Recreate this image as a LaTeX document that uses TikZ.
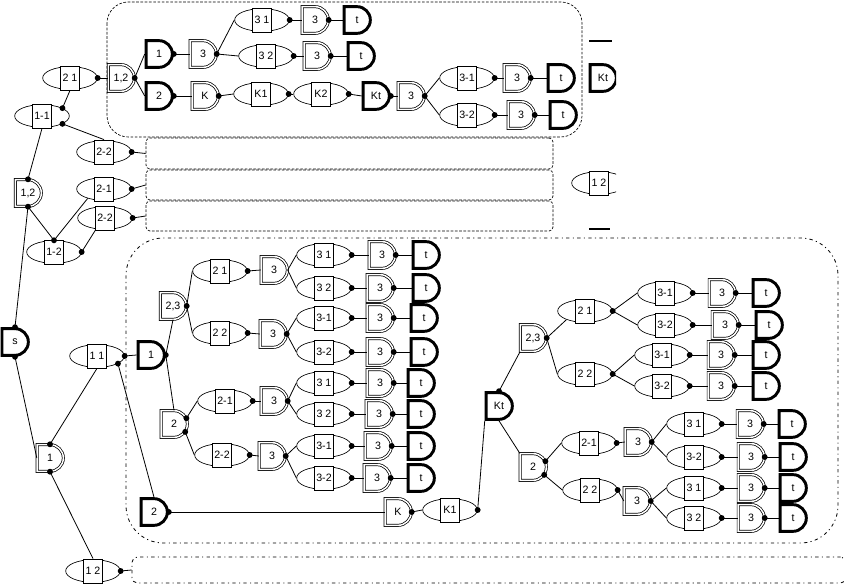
\documentclass[tikz,border=0pt]{standalone}
\usepackage{fontspec}
\setmainfont{Liberation Sans}
\usetikzlibrary{shapes.geometric,shapes.misc,fit}

% event: ellipse with a boxed tag on it
\newcommand{\evt}[3]{%
  \node[ell] (#1) at (#2) {};
  \node[tagbox] (#1b) at (#1) {#3};}
% leaf chain: event -> gate 3 -> gate t
\newcommand{\leaf}[6]{%
  \evt{#1}{#2,#3}{#6}
  \node[org] (#1g) at (#4,#3) {3};
  \node[andg] (#1t) at (#5,#3) {t};
  \draw[wire] (#1.east) -- (#1g.west);
  \draw[wire] (#1g.east) -- (#1t.west);
  \fill (#1.east) circle (2.2pt);
  \fill (#1g.east) circle (2.2pt);}

\begin{document}
\begin{tikzpicture}[
    x=0.75pt, y=-0.75pt,
    font=\fontsize{8}{9}\selectfont,
    ell/.style={ellipse, draw, line width=0.5pt, minimum width=41pt, minimum height=17pt, inner sep=0pt},
    tagbox/.style={rectangle, draw, fill=white, line width=0.6pt, minimum width=14pt, minimum height=18pt, inner sep=1pt},
    andg/.style={rounded rectangle, rounded rectangle left arc=none, draw, fill=white, line width=2.2pt, minimum width=18.5pt, minimum height=20pt, inner sep=0pt},
    org/.style={rounded rectangle, rounded rectangle left arc=none, draw, double, double distance=1.1pt, line width=0.55pt, minimum width=19pt, minimum height=20pt, inner sep=0pt},
    wire/.style={line width=0.6pt},
    grpline/.style={draw, line width=0.5pt, dash pattern=on 2pt off 1.2pt},
    grpline2/.style={draw, line width=0.6pt, dash pattern=on 2.5pt off 2.5pt on 0.8pt off 2.5pt}
]
    \useasboundingbox (0,0) rectangle (844,584);

    % groups
    \draw[grpline, rounded corners=16pt] (107,2) rectangle (582,137);
    \draw[grpline2, rounded corners=28pt] (126,238) rectangle (838,543);
    \node[grpline, rounded corners=3pt, inner sep=0pt, fit={(146,138) (553,169)}] (boxa) {};
    \node[grpline, rounded corners=3pt, inner sep=0pt, fit={(146,170) (553,200)}] (boxb) {};
    \node[grpline, rounded corners=3pt, inner sep=0pt, fit={(146,201) (553,231)}] (boxc) {};
    \node[grpline2, rounded corners=4pt, inner sep=0pt, fit={(132,557) (846,583)}] (boxd) {};

    % upper branch
    \node[andg] (s) at (15,342) {s};
    \node[org] (p12) at (28,193) {1,2};
    \evt{e11}{42,116}{1-1}
    \evt{e12}{54,252}{1-2}
    \evt{e21}{70,78}{2 1}
    \node[org] (q12) at (121,78) {1,2};
    \node[andg] (a1) at (159,54) {1};
    \node[andg] (a2) at (159,96) {2};
    \node[org] (g3) at (203,54) {3};
    \node[org] (gk) at (205,96) {K};
    \evt{ek1}{261,94}{K1}
    \evt{ek2}{321,94}{K2}
    \node[andg] (akt) at (376,96) {Kt};
    \node[org] (g3k) at (411,96) {3};
    \leaf{la1}{262}{20}{315}{357}{3 1}
    \leaf{la2}{266}{56}{317}{361}{3 2}
    \leaf{la3}{467}{78}{517}{561}{3-1}
    \leaf{la4}{467}{115}{521}{563}{3-2}
    \evt{e22a}{104,152}{2-2}
    \evt{e21c}{104,189}{2-1}
    \evt{e22c}{105,218}{2-2}

    % lower branch
    \node[org] (b1) at (50,458) {1};
    \evt{e11c}{97,356}{1 1}
    \evt{e12c}{93,571}{1 2}
    \node[andg] (c1) at (151,355) {1};
    \node[andg] (c2) at (154,512) {2};
    \node[org] (c23) at (173,306) {2,3};
    \node[org] (cc2) at (174,424) {2};
    \evt{f21}{220,271}{2 1}
    \evt{f22}{220,333}{2 2}
    \evt{f21b}{225,401}{2-1}
    \evt{f22b}{222,455}{2-2}
    \node[org] (h3a) at (274,270) {3};
    \node[org] (h3b) at (273,334) {3};
    \node[org] (h3c) at (274,401) {3};
    \node[org] (h3d) at (272,456) {3};
    \leaf{lb1}{324}{255}{382}{426}{3 1}
    \leaf{lb2}{324}{288}{380}{426}{3 2}
    \leaf{lb3}{324}{318}{380}{424}{3-1}
    \leaf{lb4}{324}{352}{380}{424}{3-2}
    \leaf{lb5}{324}{383}{380}{421}{3 1}
    \leaf{lb6}{324}{414}{379}{421}{3 2}
    \leaf{lb7}{324}{446}{378}{421}{3-1}
    \leaf{lb8}{324}{478}{377}{421}{3-2}
    \node[org] (ck) at (398,512) {K};
    \evt{ck1}{450,510}{K1}
    \node[andg] (ckt) at (499,406) {Kt};
    \node[org] (d23) at (533,338) {2,3};
    \node[org] (d2) at (533,467) {2};
    \evt{k21}{585,311}{2 1}
    \evt{k22}{585,374}{2 2}
    \evt{k21b}{589,443}{2-1}
    \evt{k22b}{590,490}{2 2}
    \node[org] (m3a) at (638,442) {3};
    \node[org] (m3b) at (637,501) {3};
    \leaf{lc1}{665}{293}{722}{766}{3-1}
    \leaf{lc2}{665}{325}{725}{769}{3-2}
    \leaf{lc3}{662}{355}{721}{766}{3-1}
    \leaf{lc4}{662}{386}{721}{766}{3-2}
    \leaf{lc5}{694}{424}{750}{792}{3 1}
    \leaf{lc6}{694}{457}{751}{793}{3-2}
    \leaf{lc7}{694}{488}{751}{793}{3 1}
    \leaf{lc8}{694}{518}{751}{793}{3 2}

    % cut-off pieces at the right edge
    \begin{scope}
      \clip (560,0) rectangle (616,240);
      \draw[line width=2.2pt] (589,41) -- (612,41);
      \node[andg] (ktr) at (603,78) {Kt};
      \draw[double, double distance=1.1pt, line width=0.55pt] (589,116) -- (611,116);
      \evt{e12r}{599,183}{1 2}
      \draw[line width=2pt] (589,229) -- (610,229);
    \end{scope}

    % wires, upper branch
    \draw[wire] (s.north) -- (p12.south);
    \draw[wire] (p12.south) -- (e12.north);
    \draw[wire] (e12.north) -- (e21c.210);
    \draw[wire] (e12.east) -- (e22cb.south west);
    \draw[wire] (p12.north) -- (e11b.south);
    \draw[wire] (e11.21) -- (e21b.south);
    \draw[wire] (e11.-21) -- (e22ab.north);
    \draw[wire] (e21.east) -- (q12.west);
    \draw[wire] (q12.east) -- (a1.west);
    \draw[wire] (q12.east) -- (a2.west);
    \draw[wire] (a1.east) -- (g3.west);
    \draw[wire] (g3.east) -- (la1.west);
    \draw[wire] (g3.east) -- (la2.west);
    \draw[wire] (a2.east) -- (gk.west);
    \draw[wire] (gk.east) -- (ek1.west);
    \draw[wire] (ek1.east) -- (ek2.west);
    \draw[wire] (ek2.east) -- (akt.west);
    \draw[wire] (akt.east) -- (g3k.west);
    \draw[wire] (g3k.east) -- (la3.west);
    \draw[wire] (g3k.east) -- (la4.west);
    \draw[wire] (e22a.east) -- (boxa.west);
    \draw[wire] (e21c.east) -- (boxb.west);
    \draw[wire] (e22c.east) -- (boxc.west);

    % wires, lower branch
    \draw[wire] (s.south) -- (b1.west);
    \draw[wire] (b1.north) -- (e11cb.south);
    \draw[wire] (b1.south) -- (e12cb.north);
    \draw[wire] (e12c.east) -- (boxd.west);
    \draw[wire] (e11c.east) -- (c1.west);
    \draw[wire] (e11c.-20) -- (c2.north);
    \draw[wire] (c1.east) -- (c23.south);
    \draw[wire] (c1.east) -- (cc2.north);
    \draw[wire] (c23.east) -- (f21.west);
    \draw[wire] (c23.east) -- (f22.west);
    \draw[wire] (f21.east) -- (h3a.west);
    \draw[wire] (f22.east) -- (h3b.west);
    \draw[wire] (h3a.east) -- (lb1.west);
    \draw[wire] (h3a.east) -- (lb2.west);
    \draw[wire] (h3b.east) -- (lb3.west);
    \draw[wire] (h3b.east) -- (lb4.west);
    \draw[wire] (cc2.25) -- (f21b.west);
    \draw[wire] (cc2.-35) -- (f22b.west);
    \draw[wire] (f21b.east) -- (h3c.west);
    \draw[wire] (f22b.east) -- (h3d.west);
    \draw[wire] (h3c.east) -- (lb5.west);
    \draw[wire] (h3c.east) -- (lb6.west);
    \draw[wire] (h3d.east) -- (lb7.west);
    \draw[wire] (h3d.east) -- (lb8.west);
    \draw[wire] (c2.east) -- (ck.west);
    \draw[wire] (ck.east) -- (ck1.west);
    \draw[wire] (ck1.east) -- (ckt.south west);
    \draw[wire] (ckt.north) -- (d23.south west);
    \draw[wire] (ckt.south) -- (d2.north west);
    \draw[wire] (d23.east) -- (k21.205);
    \draw[wire] (d23.east) -- (k22.west);
    \draw[wire] (k21.east) -- (lc1.west);
    \draw[wire] (k21.east) -- (lc2.west);
    \draw[wire] (k22.east) -- (lc3.west);
    \draw[wire] (k22.east) -- (lc4.west);
    \draw[wire] (d2.25) -- (k21b.west);
    \draw[wire] (d2.-35) -- (k22b.west);
    \draw[wire] (k21b.east) -- (m3a.west);
    \draw[wire] (k22b.east) -- (m3b.west);
    \draw[wire] (m3a.east) -- (lc5.west);
    \draw[wire] (m3a.east) -- (lc6.west);
    \draw[wire] (m3b.east) -- (lc7.west);
    \draw[wire] (m3b.east) -- (lc8.west);

    % junction dots
    \foreach \p in {s.north, s.south, p12.north, p12.south, e12.north, e12.east,
        e11.21, e11.-21, e21.east, q12.east, a1.east, a2.east, g3.east, gk.east,
        ek1.east, ek2.east, akt.east, g3k.east, e22a.east, e21c.east, e22c.east,
        b1.north, b1.south, e11c.east, e11c.-20, e12c.east, c1.east, c23.east,
        cc2.25, cc2.-35, f21.east, f22.east, f21b.east, f22b.east, h3b.east,
        h3c.east, h3d.east, c2.east, ck.east, ck1.east, ckt.north, d23.east,
        d2.25, d2.-35, k21.east, k22.east, k21b.east, k22b.east, m3a.east, m3b.east}
        \fill (\p) circle (2.2pt);
\end{tikzpicture}
\end{document}
